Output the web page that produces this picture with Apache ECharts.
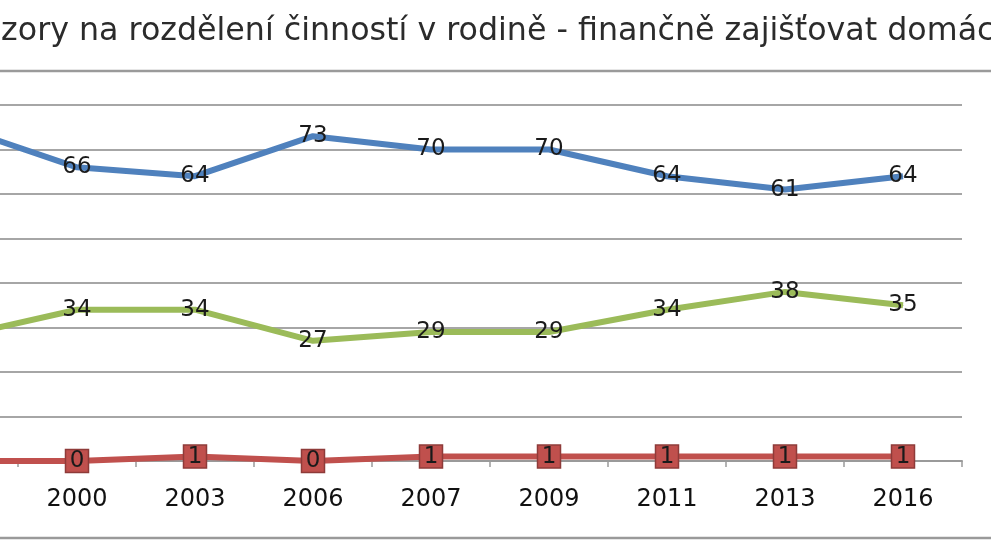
<!DOCTYPE html>
<html>
<head>
<meta charset="utf-8">
<script src="https://cdn.jsdelivr.net/npm/echarts@6/dist/echarts.min.js"></script>
<style>
  html, body { margin: 0; padding: 0; background: #fff; overflow: hidden; }
  /* graf je širší a posunutý doleva, první rok leží mimo obraz jako v ořezu */
  #chart { position: absolute; left: -100px; top: 0; width: 1091px; height: 558px; }
</style>
</head>
<body>
<div id="chart"></div>
<script>
// kategorie (první rok je v ořezu mimo obraz)
const years = ['1995', '2000', '2003', '2006', '2007', '2009', '2011', '2013', '2016']
// hodnoty řad v %
const obaStejne = [75, 66, 64, 73, 70, 70, 64, 61, 64]
const muz = [28, 34, 34, 27, 29, 29, 34, 38, 35]
const zena = [0, 0, 1, 0, 1, 1, 1, 1, 1]
const titleText = 'Názory na rozdělení činností v rodině - finančně zajišťovat domácnost'

const OFFSET = 100

const chart = echarts.init(document.getElementById('chart'), null, { renderer: 'canvas' })

const labelStyle = {
  show: true,
  position: 'inside',
  fontFamily: 'DejaVu Sans',
  fontSize: 23,
  color: '#1a1a1a'
}

chart.setOption({
  animation: false,
  backgroundColor: '#fff',
  graphic: [
    {
      type: 'text',
      left: OFFSET - 42,
      top: 16,
      style: { text: titleText, font: '31.7px "DejaVu Sans"', fill: '#2b2b2b' }
    },
    // rámeček grafu
    { type: 'line', shape: { x1: OFFSET, y1: 71, x2: OFFSET + 991, y2: 71 }, style: { stroke: '#9a9a9a', lineWidth: 2.5 } },
    { type: 'line', shape: { x1: OFFSET, y1: 538, x2: OFFSET + 991, y2: 538 }, style: { stroke: '#9a9a9a', lineWidth: 2.5 } }
  ],
  grid: { left: 0, right: 29, top: 105, bottom: 97, containLabel: false },
  xAxis: {
    type: 'category',
    data: years,
    boundaryGap: true,
    axisLine: { lineStyle: { color: '#9a9a9a', width: 2 } },
    axisTick: { show: true, length: 6, lineStyle: { color: '#9a9a9a', width: 1.5 } },
    axisLabel: { fontFamily: 'DejaVu Sans', fontSize: 24, color: '#111', margin: 27 }
  },
  yAxis: {
    type: 'value',
    min: 0,
    max: 80,
    interval: 10,
    axisLine: { show: false },
    axisTick: { show: false },
    axisLabel: { show: false },
    splitLine: { lineStyle: { color: '#a6a6a6', width: 2 } }
  },
  series: [
    {
      name: 'oba stejně',
      type: 'line',
      data: obaStejne,
      symbol: 'circle',
      symbolSize: 1,
      lineStyle: { color: '#4f81bd', width: 6 },
      itemStyle: { color: '#4f81bd' },
      label: labelStyle
    },
    {
      name: 'muž',
      type: 'line',
      data: muz,
      symbol: 'circle',
      symbolSize: 1,
      lineStyle: { color: '#9bbb59', width: 6 },
      itemStyle: { color: '#9bbb59' },
      label: labelStyle
    },
    {
      name: 'žena',
      type: 'line',
      data: zena,
      symbol: 'rect',
      symbolSize: 23,
      lineStyle: { color: '#c0504d', width: 6 },
      itemStyle: { color: '#c0504d', borderColor: '#8e3b39', borderWidth: 1.5 },
      label: labelStyle
    }
  ]
})
</script>
</body>
</html>
